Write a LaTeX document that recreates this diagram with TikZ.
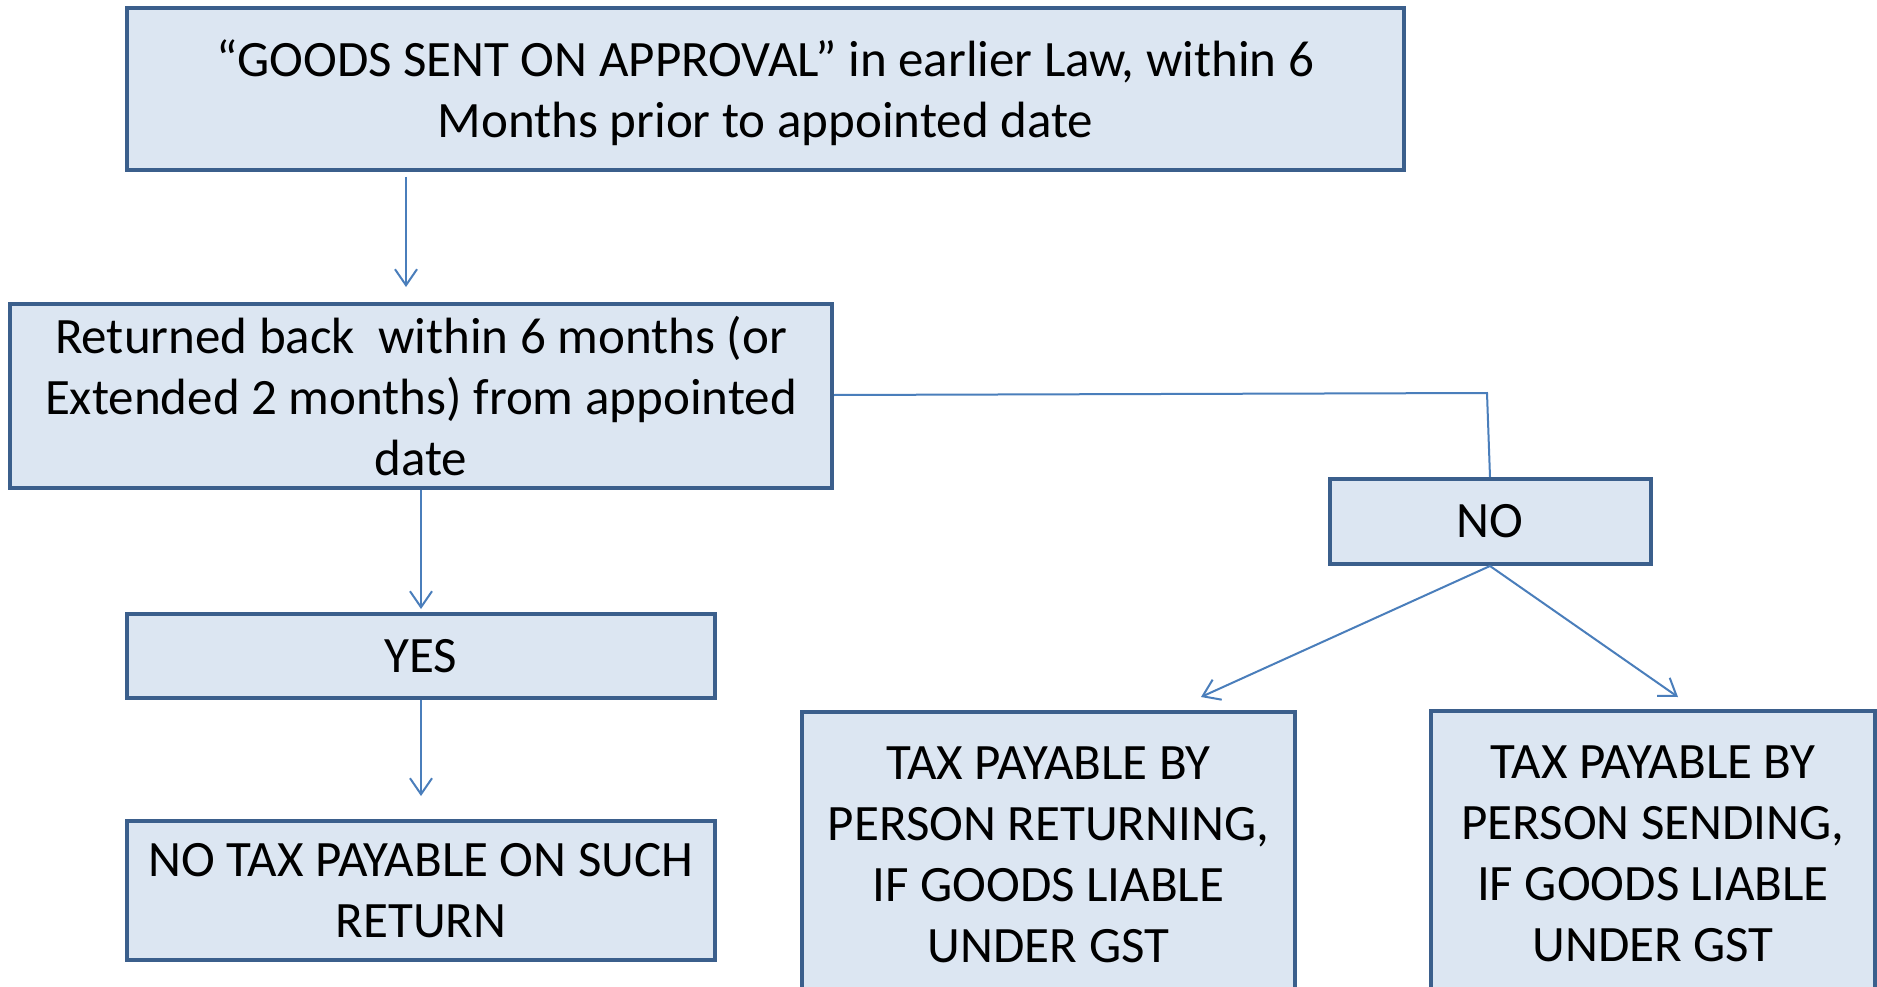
\documentclass[tikz,border=0pt]{standalone}
\usepackage{fontspec}
\setmainfont{Carlito}
\usetikzlibrary{arrows.meta}
\definecolor{boxfill}{HTML}{DCE6F2}
\definecolor{boxline}{HTML}{3B5F8C}
\definecolor{linkcol}{HTML}{4A7EBB}
\begin{document}
\begin{tikzpicture}[x=1pt,y=-1pt,
  flowbox/.style={draw=boxline,fill=boxfill,line width=4pt,rectangle,
    inner sep=0pt,align=center,font=\fontsize{51}{61}\selectfont},
  link/.style={draw=linkcol,line width=2pt},
  arr/.style={link,-{Straight Barb[length=16pt,width=22pt,line width=2pt]}}]
\clip (0,0) rectangle (1877,987);
\fill[white] (0,0) rectangle (1877,987);

% boxes
\node[flowbox,minimum width=1277pt,minimum height=162pt] (top) at (765.5,89)
  {\raisebox{-4pt}[\height][\depth]{\parbox{1200pt}{\centering “GOODS SENT ON APPROVAL” in earlier Law, within 6\\Months prior to appointed date}}};
\node[flowbox,minimum width=822pt,minimum height=184pt] (ret) at (421,396)
  {Returned back\ \ within 6 months (or\\Extended 2 months) from appointed\\date};
\node[flowbox,minimum width=321pt,minimum height=85pt] (no) at (1490,521.5) {NO};
\node[flowbox,minimum width=588pt,minimum height=84pt] (yes) at (421,656) {YES};
\node[flowbox,minimum width=588pt,minimum height=139pt] (notax) at (421,890.5)
  {NO TAX PAYABLE ON SUCH\\RETURN};
\node[flowbox,minimum width=493pt,minimum height=286pt] (byret) at (1048.5,855)
  {TAX PAYABLE BY\\PERSON RETURNING,\\IF GOODS LIABLE\\UNDER GST};
\node[flowbox,minimum width=444pt,minimum height=286pt] (bysend) at (1653,854)
  {TAX PAYABLE BY\\PERSON SENDING,\\IF GOODS LIABLE\\UNDER GST};

% connector end points
\coordinate (a1s) at (406,177);
\coordinate (a1e) at (406,287);
\coordinate (bend) at (1487,393);
\coordinate (tl) at (1201,697);
\coordinate (tr) at (1678,697);

% connectors
\draw[arr] (a1s) -- (a1e);
\draw[arr,shorten >=3pt] (ret.south) -- (yes.north);
\draw[arr,shorten >=23pt] (yes.south) -- (notax.north);
\draw[link] (ret.east) ++(0,-1) -- (bend) -- (no.north);
\draw[arr] (no.south) -- (tl);
\draw[arr] (no.south) -- (tr);
\end{tikzpicture}
\end{document}
